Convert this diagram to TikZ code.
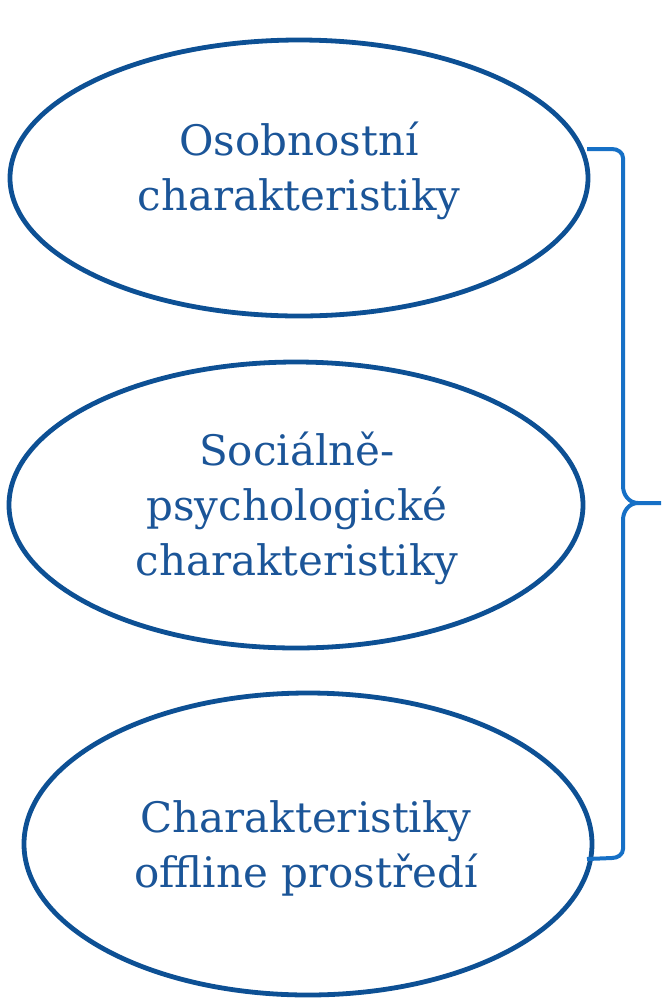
\documentclass[tikz,border=0pt]{standalone}
\usepackage{fontspec}
\setmainfont{DejaVu Serif}
\usetikzlibrary{shapes.geometric}
\definecolor{ovalblue}{HTML}{0D5094}
\definecolor{textblue}{HTML}{1B5598}
\definecolor{braceblue}{HTML}{1670C6}
\tikzset{
	oval/.style={ellipse, draw=ovalblue, line width=2.4pt, inner sep=0pt},
	caption/.style={text=textblue, align=center, inner sep=0pt,
		font=\fontsize{21}{27.5}\selectfont}
}
\begin{document}
\begin{tikzpicture}[x=0.5pt, y=-0.5pt]
	\useasboundingbox (0,0) rectangle (661,998);
	\node [oval, minimum width=289pt, minimum height=138pt] (osob) at (299,178) {};
	\node [oval, minimum width=287pt, minimum height=143pt] (soc) at (296,505) {};
	\node [oval, minimum width=284pt, minimum height=151pt] (off) at (308,844) {};
	\node [caption] (osobtext) at (299,171) {Osobnostní\\charakteristiky};
	\node [caption] (soctext) at (297,508) {Sociálně-\\psychologické\\charakteristiky};
	\node [caption] (offtext) at (306,848) {Charakteristiky\\offline prostředí};
	\coordinate (tip) at (661,503);
	\draw [braceblue, line width=2pt] (587,149) -- (612,149) to[out=0, in=90] (623,158) -- (623,486) to[out=-90, in=180] (638,503) -- (tip);
	\draw [braceblue, line width=2pt] (587,859) -- (612,858) to[out=0, in=-90] (623,849) -- (623,520) to[out=90, in=180] (638,503);
\end{tikzpicture}
\end{document}
